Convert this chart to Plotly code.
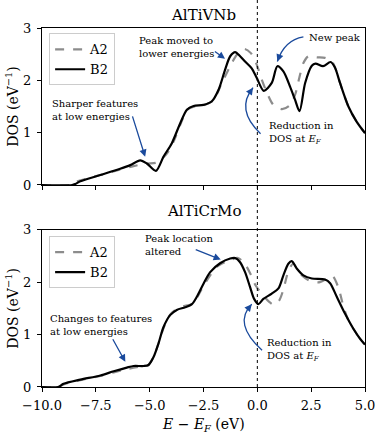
import plotly.graph_objects as go

# ---------------- data ----------------
panel_titles = ["AlTiVNb", "AlTiCrMo"]
series_names = ["A2", "B2"]

e_vnb_a2 = [-10, -8.7, -8.6, -8.2, -7.3, -6.4, -5.75, -5.13, -4.67, -4.2, -3.89, -3.55, -3.25, -2.9, -2.5,
            -2.04, -1.65, -1.26, -0.95, -0.6, -0.3, -0.03, 0.21, 0.44, 0.75, 1.15, 1.5, 1.75, 1.95, 2.14,
            2.37, 2.76, 3.14, 3.45, 3.65, 3.84, 4.23, 4.61, 5.0]
dos_vnb_a2 = [0, 0, 0.04, 0.09, 0.19, 0.29, 0.36, 0.41, 0.43, 0.6, 0.83, 1.18, 1.44, 1.5, 1.52,
              1.62, 1.95, 2.27, 2.49, 2.6, 2.52, 2.3, 2.01, 1.77, 1.53, 1.45, 1.52, 1.72, 2.05, 2.33,
              2.46, 2.44, 2.43, 2.37, 2.2, 1.95, 1.5, 1.21, 0.99]

e_vnb_b2 = [-10, -8.6, -8.45, -8.22, -7.29, -6.37, -5.9, -5.44, -5.13, -4.71, -4.36, -3.97, -3.58, -3.27,
            -2.96, -2.5, -2.11, -1.8, -1.5, -1.26, -1.03, -0.8, -0.57, -0.26, -0.03, 0.3, 0.67, 0.93,
            1.21, 1.52, 1.75, 1.96, 2.22, 2.53, 2.7, 3.05, 3.4, 3.6, 3.84, 4.23, 4.61, 5.0]
dos_vnb_b2 = [0, 0, 0.02, 0.07, 0.19, 0.31, 0.38, 0.47, 0.41, 0.27, 0.54, 0.8, 1.18, 1.44,
              1.51, 1.53, 1.6, 1.82, 2.2, 2.46, 2.54, 2.46, 2.36, 2.23, 2.05, 1.8, 1.95, 2.27,
              2.17, 1.88, 1.63, 1.41, 1.95, 2.28, 2.32, 2.27, 2.35, 2.25, 1.95, 1.5, 1.21, 0.99]

e_crmo_a2 = [-10, -9.25, -9.0, -8.22, -7.29, -6.67, -6.06, -5.6, -5.1, -4.85, -4.6, -4.36, -4.05, -3.74,
             -3.35, -3.04, -2.81, -2.5, -2.19, -1.88, -1.5, -1.26, -0.9, -0.6, -0.3, -0.1, 0.05, 0.36,
             0.75, 1.0, 1.21, 1.45, 1.67, 1.98, 2.45, 2.91, 3.3, 3.5, 3.76, 4.0, 4.2, 4.46, 4.77, 5.0]
dos_crmo_a2 = [0, 0, 0.05, 0.13, 0.21, 0.28, 0.34, 0.38, 0.41, 0.55, 0.82, 1.12, 1.38, 1.49,
               1.55, 1.58, 1.7, 1.93, 2.13, 2.29, 2.38, 2.42, 2.46, 2.36, 2.14, 1.95, 1.86, 1.7,
               1.57, 1.64, 1.86, 2.22, 2.35, 2.16, 2.02, 2.0, 2.08, 2.11, 1.9, 1.53, 1.3, 1.11, 0.92, 0.81]

e_crmo_b2 = [-10, -9.25, -9.0, -8.22, -7.29, -6.67, -6.06, -5.75, -5.28, -5.05, -4.82, -4.59, -4.36, -4.05,
             -3.74, -3.35, -3.04, -2.81, -2.5, -2.19, -1.73, -1.26, -1.03, -0.8, -0.57, -0.34, -0.15, 0.05,
             0.28, 0.67, 0.98, 1.21, 1.44, 1.6, 1.83, 2.14, 2.53, 3.14, 3.38, 3.69, 4.07, 4.46, 4.77, 5.0]
dos_crmo_b2 = [0, 0, 0.06, 0.14, 0.22, 0.3, 0.37, 0.4, 0.4, 0.42, 0.57, 0.83, 1.14, 1.37,
               1.47, 1.52, 1.58, 1.72, 1.97, 2.19, 2.36, 2.45, 2.46, 2.38, 2.19, 1.91, 1.68, 1.58,
               1.68, 1.78, 1.88, 2.13, 2.35, 2.4, 2.26, 2.13, 2.07, 2.05, 1.98, 1.72, 1.4, 1.11, 0.92, 0.81]

x_ticks = [-10.0, -7.5, -5.0, -2.5, 0.0, 2.5, 5.0]
y_ticks = [0, 1, 2, 3]

# ---------------- figure ----------------
FONT = "DejaVu Serif"
BLUE = "#1a4a9c"
GRAY = "#8c8c8c"

fig = go.Figure()

panels = [
    (e_vnb_a2, dos_vnb_a2, e_vnb_b2, dos_vnb_b2, "x", "y", "legend"),
    (e_crmo_a2, dos_crmo_a2, e_crmo_b2, dos_crmo_b2, "x2", "y2", "legend2"),
]
for ea, da, eb, db, xa, ya, lg in panels:
    fig.add_trace(go.Scatter(x=ea, y=da, mode="lines", name=series_names[0], xaxis=xa, yaxis=ya,
                             legend=lg, line=dict(color=GRAY, width=2.2, dash="dash",
                                                  shape="spline", smoothing=0.8)))
    fig.add_trace(go.Scatter(x=eb, y=db, mode="lines", name=series_names[1], xaxis=xa, yaxis=ya,
                             legend=lg, line=dict(color="black", width=2.2,
                                                  shape="spline", smoothing=0.8)))

axis_common = dict(range=[-10, 5], showline=True, linecolor="black", linewidth=1, mirror=True,
                   ticks="outside", ticklen=4, tickcolor="black", showgrid=False, zeroline=False,
                   tickvals=x_ticks, ticklabelstandoff=2, automargin=False,
                   ticklabeloverflow="allow",
                   tickfont=dict(family=FONT, size=13, color="black"))
yaxis_common = dict(range=[0, 3], showline=True, linecolor="black", linewidth=1, mirror=True,
                    ticks="outside", ticklen=4, tickcolor="black", showgrid=False, zeroline=False,
                    tickvals=y_ticks, ticklabelstandoff=3, automargin=False,
                    ticklabeloverflow="allow",
                    tickfont=dict(family=FONT, size=13, color="black"))

legend_common = dict(bgcolor="white", bordercolor="#cccccc", borderwidth=1,
                     font=dict(family=FONT, size=13, color="black"),
                     xanchor="left", yanchor="top", tracegroupgap=0, itemwidth=30)

fig.update_layout(
    width=375, height=434,
    margin=dict(l=42, r=10, t=28, b=47, autoexpand=False),
    paper_bgcolor="white", plot_bgcolor="white",
    font=dict(family=FONT, color="black"),
    xaxis=dict(axis_common, domain=[0, 1], anchor="y", showticklabels=False),
    yaxis=dict(yaxis_common, domain=[0.5627, 1.0], anchor="x"),
    xaxis2=dict(axis_common, domain=[0, 1], anchor="y2", tickformat=".1f"),
    yaxis2=dict(yaxis_common, domain=[0.0, 0.4382], anchor="x2"),
    legend=dict(legend_common, x=0.022, y=0.985),
    legend2=dict(legend_common, x=0.022, y=0.42),
    showlegend=True,
)

# vertical Fermi-level line across the whole figure
fig.add_shape(type="line", xref="x", yref="paper", x0=0, x1=0, y0=0, y1=1.08,
              line=dict(color="black", width=1, dash="dot"))

# panel titles and axis labels
fig.add_annotation(text=panel_titles[0], xref="paper", yref="paper", x=0.5, y=1.0, yshift=13,
                   xanchor="center", yanchor="middle",
                   showarrow=False, font=dict(family=FONT, size=15))
fig.add_annotation(text=panel_titles[1], xref="paper", yref="paper", x=0.5, y=0.4382, yshift=19,
                   xanchor="center", yanchor="middle",
                   showarrow=False, font=dict(family=FONT, size=15))
for ydom in [(0.5627 + 1.0) / 2, 0.4382 / 2]:
    fig.add_annotation(text="DOS (eV<sup>−1</sup>)", xref="paper", yref="paper", x=-0.092, y=ydom,
                       xanchor="center", yanchor="middle",
                       textangle=-90, showarrow=False, font=dict(family=FONT, size=14))
fig.add_annotation(text="<i>E</i> − <i>E</i><sub><i>F</i></sub> (eV)", xref="paper", yref="paper",
                   x=0.5, y=-0.106, xanchor="center", yanchor="middle",
                   showarrow=False, font=dict(family=FONT, size=14))

# text notes
notes = [
    ("x", "y", -9.61, 1.43, "Sharper features<br>at low energies"),
    ("x", "y", -5.58, 2.64, "Peak moved to<br>lower energies"),
    ("x", "y", 2.31, 2.81, "New peak"),
    ("x", "y", 0.45, 0.99, "Reduction in<br>DOS at <i>E</i><sub><i>F</i></sub>"),
    ("x2", "y2", -9.71, 1.18, "Changes to features<br>at low energies"),
    ("x2", "y2", -5.3, 2.70, "Peak location<br>altered"),
    ("x2", "y2", 0.36, 0.70, "Reduction in<br>DOS at <i>E</i><sub><i>F</i></sub>"),
]
for xr, yr, xx, yy, txt in notes:
    fig.add_annotation(text=txt, xref=xr, yref=yr, x=xx, y=yy, xanchor="left", yanchor="middle",
                       align="left", showarrow=False, font=dict(family=FONT, size=10, color="black"))

# straight arrows (tail -> head)
straight = [
    ("x", "y", -5.82, 1.34, -5.21, 0.54),
    ("x", "y", -2.04, 2.57, -1.50, 2.41),
    ("x2", "y2", -6.75, 0.94, -6.13, 0.48),
    ("x2", "y2", -2.93, 2.63, -1.70, 2.43),
]
for xr, yr, tx, ty, hx, hy in straight:
    fig.add_annotation(xref=xr, yref=yr, axref=xr, ayref=yr, x=hx, y=hy, ax=tx, ay=ty, text="",
                       showarrow=True, arrowhead=2, arrowsize=1.1, arrowwidth=1.3, arrowcolor=BLUE,
                       standoff=0, startstandoff=0)

# curved arrows (tail, control, head)
curved = [
    ("x", "y", (2.14, 2.83), (1.26, 2.77), (0.93, 2.36)),
    ("x", "y", (0.15, 0.98), (-1.03, 1.44), (-0.20, 1.86)),
    ("x2", "y2", (0.22, 0.70), (-1.15, 1.21), (-0.26, 1.58)),
]
for xr, yr, p0, c, p2 in curved:
    fig.add_shape(type="path", xref=xr, yref=yr,
                  path=f"M {p0[0]},{p0[1]} Q {c[0]},{c[1]} {p2[0]},{p2[1]}",
                  line=dict(color=BLUE, width=1.3))
    t = 0.88
    bx = (1 - t) ** 2 * p0[0] + 2 * (1 - t) * t * c[0] + t ** 2 * p2[0]
    by = (1 - t) ** 2 * p0[1] + 2 * (1 - t) * t * c[1] + t ** 2 * p2[1]
    fig.add_annotation(xref=xr, yref=yr, axref=xr, ayref=yr, x=p2[0], y=p2[1], ax=bx, ay=by, text="",
                       showarrow=True, arrowhead=2, arrowsize=1.1, arrowwidth=1.3, arrowcolor=BLUE,
                       standoff=0, startstandoff=0)

fig.write_html("out.html", config={"displayModeBar": False},
               post_script="document.body.style.margin='0';document.body.style.padding='0';")
